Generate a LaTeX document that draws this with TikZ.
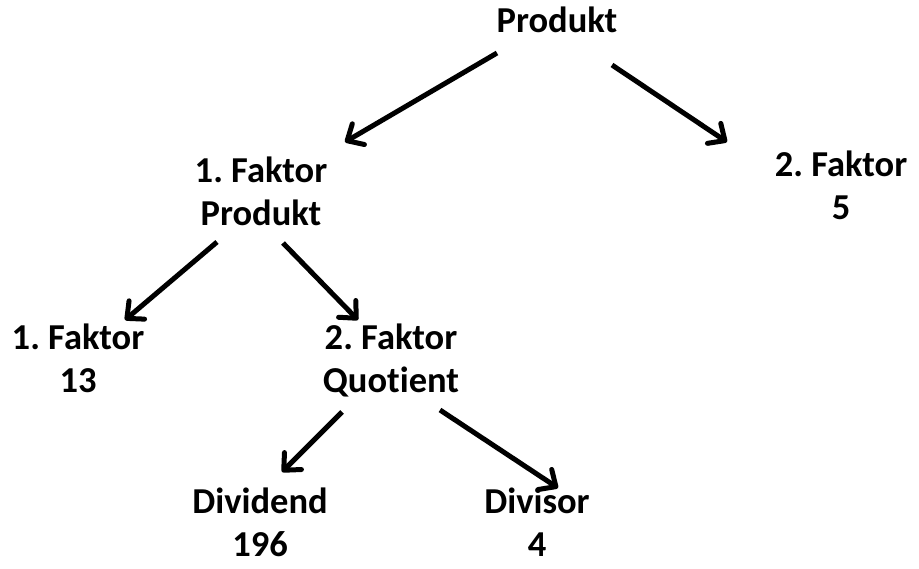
\documentclass[tikz,border=0pt]{standalone}
\usepackage{fontspec}
\setmainfont{Carlito}[Ligatures=NoCommon]
\usetikzlibrary{arrows.meta}
\frenchspacing
\tikzset{arr/.style = {line width=5, -{Straight Barb[length=13, width=24, round]}}}
\tikzset{lbl/.style = {font=\fontsize{36.5}{43}\selectfont\bfseries, align=center, anchor=base, inner sep=0}}

\begin{document}
\begin{tikzpicture}[x=1pt, y=-1pt]
      \useasboundingbox (0, 0) rectangle (919, 569);
      \node [lbl] (prod) at (557, 33) {Produkt};
      \node [lbl] (fa) at (261, 225.5) {1. Faktor\\Produkt};
      \node [lbl] (fb) at (841, 220) {2. Faktor\\5};
      \node [lbl] (fc) at (78, 392) {1. Faktor\\13};
      \node [lbl] (fd) at (391, 392) {2. Faktor\\Quotient};
      \node [lbl] (dvd) at (260, 556) {Dividend\\196};
      \node [lbl] (dvs) at (537, 556) {Divisor\\4};
      \draw [arr] ([shift={(-60, 20)}]prod.base) -- ([shift={(84, -83.5)}]fa.base);
      \draw [arr] ([shift={(55, 32)}]prod.base) -- ([shift={(-114, -78)}]fb.base);
      \draw [arr] ([shift={(-44, 16.5)}]fa.base) -- ([shift={(47, -72)}]fc.base);
      \draw [arr] ([shift={(22, 17.5)}]fa.base) -- ([shift={(-33, -72)}]fd.base);
      \draw [arr] ([shift={(-49, 20)}]fd.base) -- ([shift={(22, -84)}]dvd.base);
      \draw [arr] ([shift={(49, 18)}]fd.base) -- ([shift={(21, -68)}]dvs.base);
    \end{tikzpicture}
\end{document}
